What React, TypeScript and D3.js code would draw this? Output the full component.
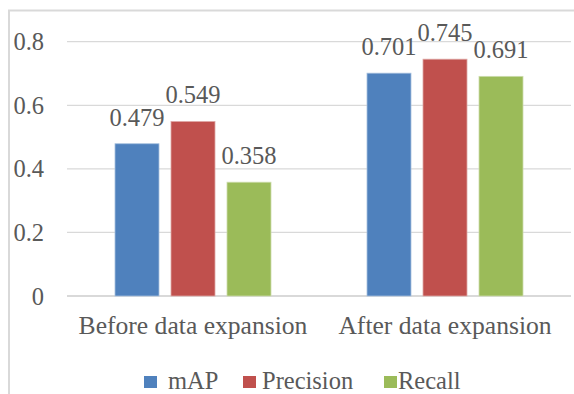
import React from "react";
import * as d3 from "d3";

const categories = ["Before data expansion", "After data expansion"];
const seriesNames = ["mAP", "Precision", "Recall"];
const mapValues = [0.479, 0.701];
const precisionValues = [0.549, 0.745];
const recallValues = [0.358, 0.691];
const yTicks = [0, 0.2, 0.4, 0.6, 0.8];

const seriesValues = [mapValues, precisionValues, recallValues];
const colors = ["#4F81BD", "#C0504D", "#9BBB59"];
const strokes = ["#A7C0DE", "#DFA8A6", "#CDDDAC"];

const W = 574;
const H = 394;
const plotLeft = 67;
const plotRight = 571;
const plotTop = 41.7;
const plotBottom = 296;
const textColor = "#595959";
const textStyle: React.CSSProperties = { fontFamily: "Liberation Serif", fill: textColor };

export default function App() {
  const x0 = d3.scaleBand<string>().domain(categories).range([plotLeft, plotRight]).padding(0);
  const bw0 = x0.bandwidth();
  const groupW = 156;
  const x1 = d3
    .scaleBand<string>()
    .domain(seriesNames)
    .range([(bw0 - groupW) / 2, (bw0 + groupW) / 2])
    .paddingInner(12 / 56)
    .paddingOuter(0);
  const y = d3.scaleLinear().domain([0, 0.8]).range([plotBottom, plotTop]);
  const fmt = d3.format(".3f");

  const legendSquareX = [144, 243, 384];
  const legendTextX = [168, 262, 398];

  return (
    <svg
      width={W}
      height={H}
      style={{ position: "absolute", left: 0, top: 0, display: "block", background: "#fff" }}
    >
      {/* chart frame */}
      <rect x={9} y={10.5} width={W + 20} height={H + 20} fill="none" stroke="#D9D9D9" strokeWidth={2} />

      {/* gridlines and y tick labels */}
      {yTicks.map((t) => (
        <g key={t}>
          <line
            x1={plotLeft}
            x2={plotRight}
            y1={y(t)}
            y2={y(t)}
            stroke="#D9D9D9"
            strokeWidth={t === 0 ? 1.8 : 1.3}
          />
          <text x={44} y={y(t)} dy="0.35em" textAnchor="end" fontSize={24.5} style={textStyle}>
            {t === 0 ? "0" : d3.format(".1f")(t)}
          </text>
        </g>
      ))}

      {/* bars and value labels */}
      {categories.map((c, ci) => (
        <g key={c} transform={`translate(${x0(c)},0)`}>
          {seriesNames.map((s, si) => {
            const v = seriesValues[si][ci];
            const bx = x1(s) as number;
            const bw = x1.bandwidth();
            return (
              <g key={s}>
                <rect
                  x={bx}
                  y={y(v)}
                  width={bw}
                  height={y(0) - y(v)}
                  fill={colors[si]}
                  stroke={strokes[si]}
                  strokeWidth={0.8}
                />
                <text x={bx + bw / 2} y={y(v) - 18} textAnchor="middle" fontSize={24.5} style={textStyle}>
                  {fmt(v)}
                </text>
              </g>
            );
          })}
        </g>
      ))}

      {/* category labels */}
      {categories.map((c) => (
        <text
          key={c}
          x={(x0(c) as number) + bw0 / 2}
          y={334}
          textAnchor="middle"
          fontSize={25.6}
          style={textStyle}
        >
          {c}
        </text>
      ))}

      {/* legend */}
      {seriesNames.map((s, i) => (
        <g key={s}>
          <rect x={legendSquareX[i]} y={376} width={13} height={12} fill={colors[i]} />
          <text x={legendTextX[i]} y={389} fontSize={24.5} style={textStyle}>
            {s}
          </text>
        </g>
      ))}
    </svg>
  );
}
